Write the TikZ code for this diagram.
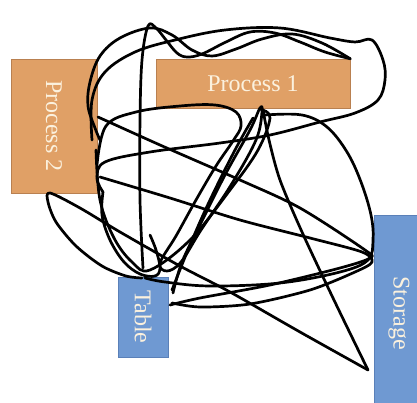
\documentclass[tikz,border=0pt]{standalone}
\usepackage{fontspec}
\setmainfont{Liberation Serif}
\usepackage{tikz}
\usetikzlibrary{positioning}
\definecolor{procfill}{HTML}{E0A066}
\definecolor{procline}{HTML}{B98050}
\definecolor{datafill}{HTML}{6F99D2}
\definecolor{dataline}{HTML}{5A80B8}
\definecolor{boxtext}{HTML}{FBF1DE}

\begin{document}
\begin{tikzpicture}[
  x=1pt, y=-1pt,
  box/.style={draw, line width=0.5pt, inner sep=0pt, text=boxtext, font=\fontsize{24}{24}\selectfont},
  proc/.style={box, fill=procfill, draw=procline},
  data/.style={box, fill=datafill, draw=dataline},
  scribble/.style={line width=2.7pt, line cap=round, line join=round}
]
\useasboundingbox (0,0) rectangle (417,403);

\node[proc, minimum width=86pt, minimum height=134pt] (proc2) at (54,126) {\rotatebox{-90}{Process 2}};
\node[proc, minimum width=194pt, minimum height=49pt] (proc1) at (253,83.5) {Process 1};
\node[data, minimum width=50pt, minimum height=80pt] (table) at (143,317) {\rotatebox{-90}{Table}};
\node[data, minimum width=50pt, minimum height=196pt] (storage) at (399,313) {\rotatebox{-90}{Storage}};
\coordinate (tip) at (368,370);

% outer arc, right loop and long way back
\draw[scribble] plot[smooth, tension=0.6] coordinates {(92,140) (92,100) (105,72) (135,52) (175,40) (225,30) (280,28) (330,38) (355,42) (372,40) (383,60) (385,80) (378,100) (355,113) (320,122) (270,135) (220,143) (150,152) (105,162) (97,178) (103,192)};
% tall narrow loop and wavy band
\draw[scribble] plot[smooth, tension=0.6] coordinates {(143,268) (140,200) (140,120) (142,60) (148,26) (156,28) (166,40) (177,53) (187,57) (202,54) (226,42) (250,32) (275,33) (300,42) (325,52) (proc1.north east)};
\draw[scribble] plot[smooth, tension=0.6] coordinates {(proc1.north east) (322,43) (292,34) (262,39) (236,49) (212,56) (192,50) (172,35) (150,28) (120,38) (100,56) (90,82) (88,106) (95,128) (100,140)};
% inner loop under process 1
\draw[scribble] plot[smooth, tension=0.6] coordinates {(97,165) (106,126) (136,112) (180,106) (215,105) (236,112) (241,126) (233,141) (216,166) (196,200) (176,236) (160,263) (167,271) (181,262) (201,230) (231,185) (256,140) (262,112) (260,108) (250,130) (225,175) (200,225) (182,262) (173,293)};
% from the apex down to the far tip and back to process 2
\draw[scribble] plot[smooth, tension=0.5] coordinates {(263,110) (269,140) (280,180) (302,232) (333,298) (tip)};
\draw[scribble] plot[smooth, tension=0.5] coordinates {(tip) (300,332) (230,292) (180,266) (120,232) (80,208) (50,193) (48,202) (56,222) (76,246) (102,266) (126,276) (142,278)};
% right arc down to storage
\draw[scribble] plot[smooth, tension=0.6] coordinates {(265,115) (302,115) (327,127) (347,152) (361,182) (371,215) (373,240) (368,260) (340,272) (280,283) (210,286) (165,282) (145,278)};
% straight runs across to storage
\draw[scribble] plot[smooth, tension=0.5] coordinates {(98,117) (160,145) (240,180) (300,208) (365,250) (370,258) (340,268) (270,285) (200,298) (170,305)};
\draw[scribble] plot[smooth, tension=0.5] coordinates {(100,177) (170,198) (240,220) (310,238) (362,252) (372,262) (355,272) (310,290) (250,304) (200,307) (172,303)};
% left loop behind the inner loop
\draw[scribble] plot[smooth, tension=0.6] coordinates {(103,192) (102,215) (110,240) (124,262) (140,274) (155,276) (160,268) (156,250) (150,235)};
\draw[scribble] plot[smooth, tension=0.6] coordinates {(96,150) (100,200) (114,238) (132,262) (150,270) (190,240) (230,190) (258,150) (270,118) (262,110)};
% short stroke towards table
\draw[scribble] plot[smooth, tension=0.6] coordinates {(253,118) (235,150) (210,200) (190,245) (172,290)};
\end{tikzpicture}
\end{document}
